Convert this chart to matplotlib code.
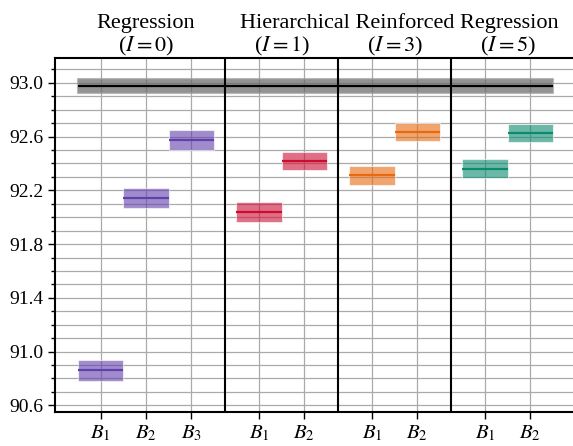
import numpy as np
import matplotlib
matplotlib.use("Agg")
import matplotlib.pyplot as plt
from matplotlib.ticker import MultipleLocator

plt.rcParams['font.family'] = ['Liberation Serif', 'DejaVu Serif']
plt.rcParams['mathtext.fontset'] = 'stix'

# data
tick_labels = ['$B_1$', '$B_2$', '$B_3$', '$B_1$', '$B_2$', '$B_1$', '$B_2$', '$B_1$', '$B_2$']
positions = [0, 1, 2, 3.5, 4.5, 6, 7, 8.5, 9.5]
means = [90.860, 92.141, 92.574, 92.040, 92.418, 92.312, 92.636, 92.362, 92.628]
stds = [0.076, 0.074, 0.077, 0.073, 0.068, 0.071, 0.068, 0.068, 0.066]
groups = [0, 0, 0, 1, 1, 2, 2, 3, 3]
group_colors = ['#6140ac', '#cc0d33', '#e8690e', '#0b8a6e']
ref_mean = 92.977
ref_std = 0.05
dividers = [2.75, 5.25, 7.75]
yticks = [90.6, 91.0, 91.4, 91.8, 92.2, 92.6, 93.0]

fig = plt.figure(figsize=(5.73, 4.46), dpi=100)
ax = fig.add_axes([55 / 573, 34 / 446, 530 / 573, 354 / 446])

# baseline band
ax.fill_between([positions[0] - 0.5, positions[-1] + 0.5], ref_mean - ref_std, ref_mean + ref_std,
                color='#666666', alpha=0.7, lw=1.5, edgecolor='#9a9a9a', zorder=3)
ax.hlines(ref_mean, positions[0] - 0.5, positions[-1] + 0.5, color='black', lw=1.6, zorder=4)

# one box per configuration
for x, m, s, g in zip(positions, means, stds, groups):
    c = group_colors[g]
    ax.bar(x, 2 * s, bottom=m - s, width=1.0, color=c, alpha=0.6,
           edgecolor='white', linewidth=0.8, zorder=3)
    ax.hlines(m, x - 0.5, x + 0.5, color=c, lw=1.6, zorder=4)

for d in dividers:
    ax.axvline(d, color='black', lw=1.5, zorder=5)

ax.set_xlim(-1.01, 10.71)
ax.set_ylim(90.55, 93.185)
ax.set_xticks(positions)
ax.set_xticklabels(tick_labels, fontsize=15)
ax.set_yticks(yticks)
ax.set_yticklabels(['%.1f' % v for v in yticks])
ax.yaxis.set_minor_locator(MultipleLocator(0.1))
ax.tick_params(axis='y', labelsize=14, length=5, width=1)
ax.tick_params(axis='y', which='minor', length=3, width=1)
ax.tick_params(axis='x', length=5, width=1, pad=3)
ax.grid(True, which='both', color='#aaaaaa', lw=0.9, zorder=0)
ax.set_axisbelow(True)
ax.spines['right'].set_visible(False)
for sp in ['left', 'top', 'bottom']:
    ax.spines[sp].set_linewidth(1.5)

# section titles
ax.text(1.0, 1.0, 'Regression\n($I = 0$)', transform=ax.get_xaxis_transform(),
        ha='center', va='bottom', fontsize=16, linespacing=1.1)
ax.text(6.6, 1.072, 'Hierarchical Reinforced Regression', transform=ax.get_xaxis_transform(),
        ha='center', va='bottom', fontsize=16)
for cx, lab in zip([4.0, 6.5, 9.0], ['($I = 1$)', '($I = 3$)', '($I = 5$)']):
    ax.text(cx, 1.0, lab, transform=ax.get_xaxis_transform(),
            ha='center', va='bottom', fontsize=16)

fig.savefig('out.png', dpi=100)
